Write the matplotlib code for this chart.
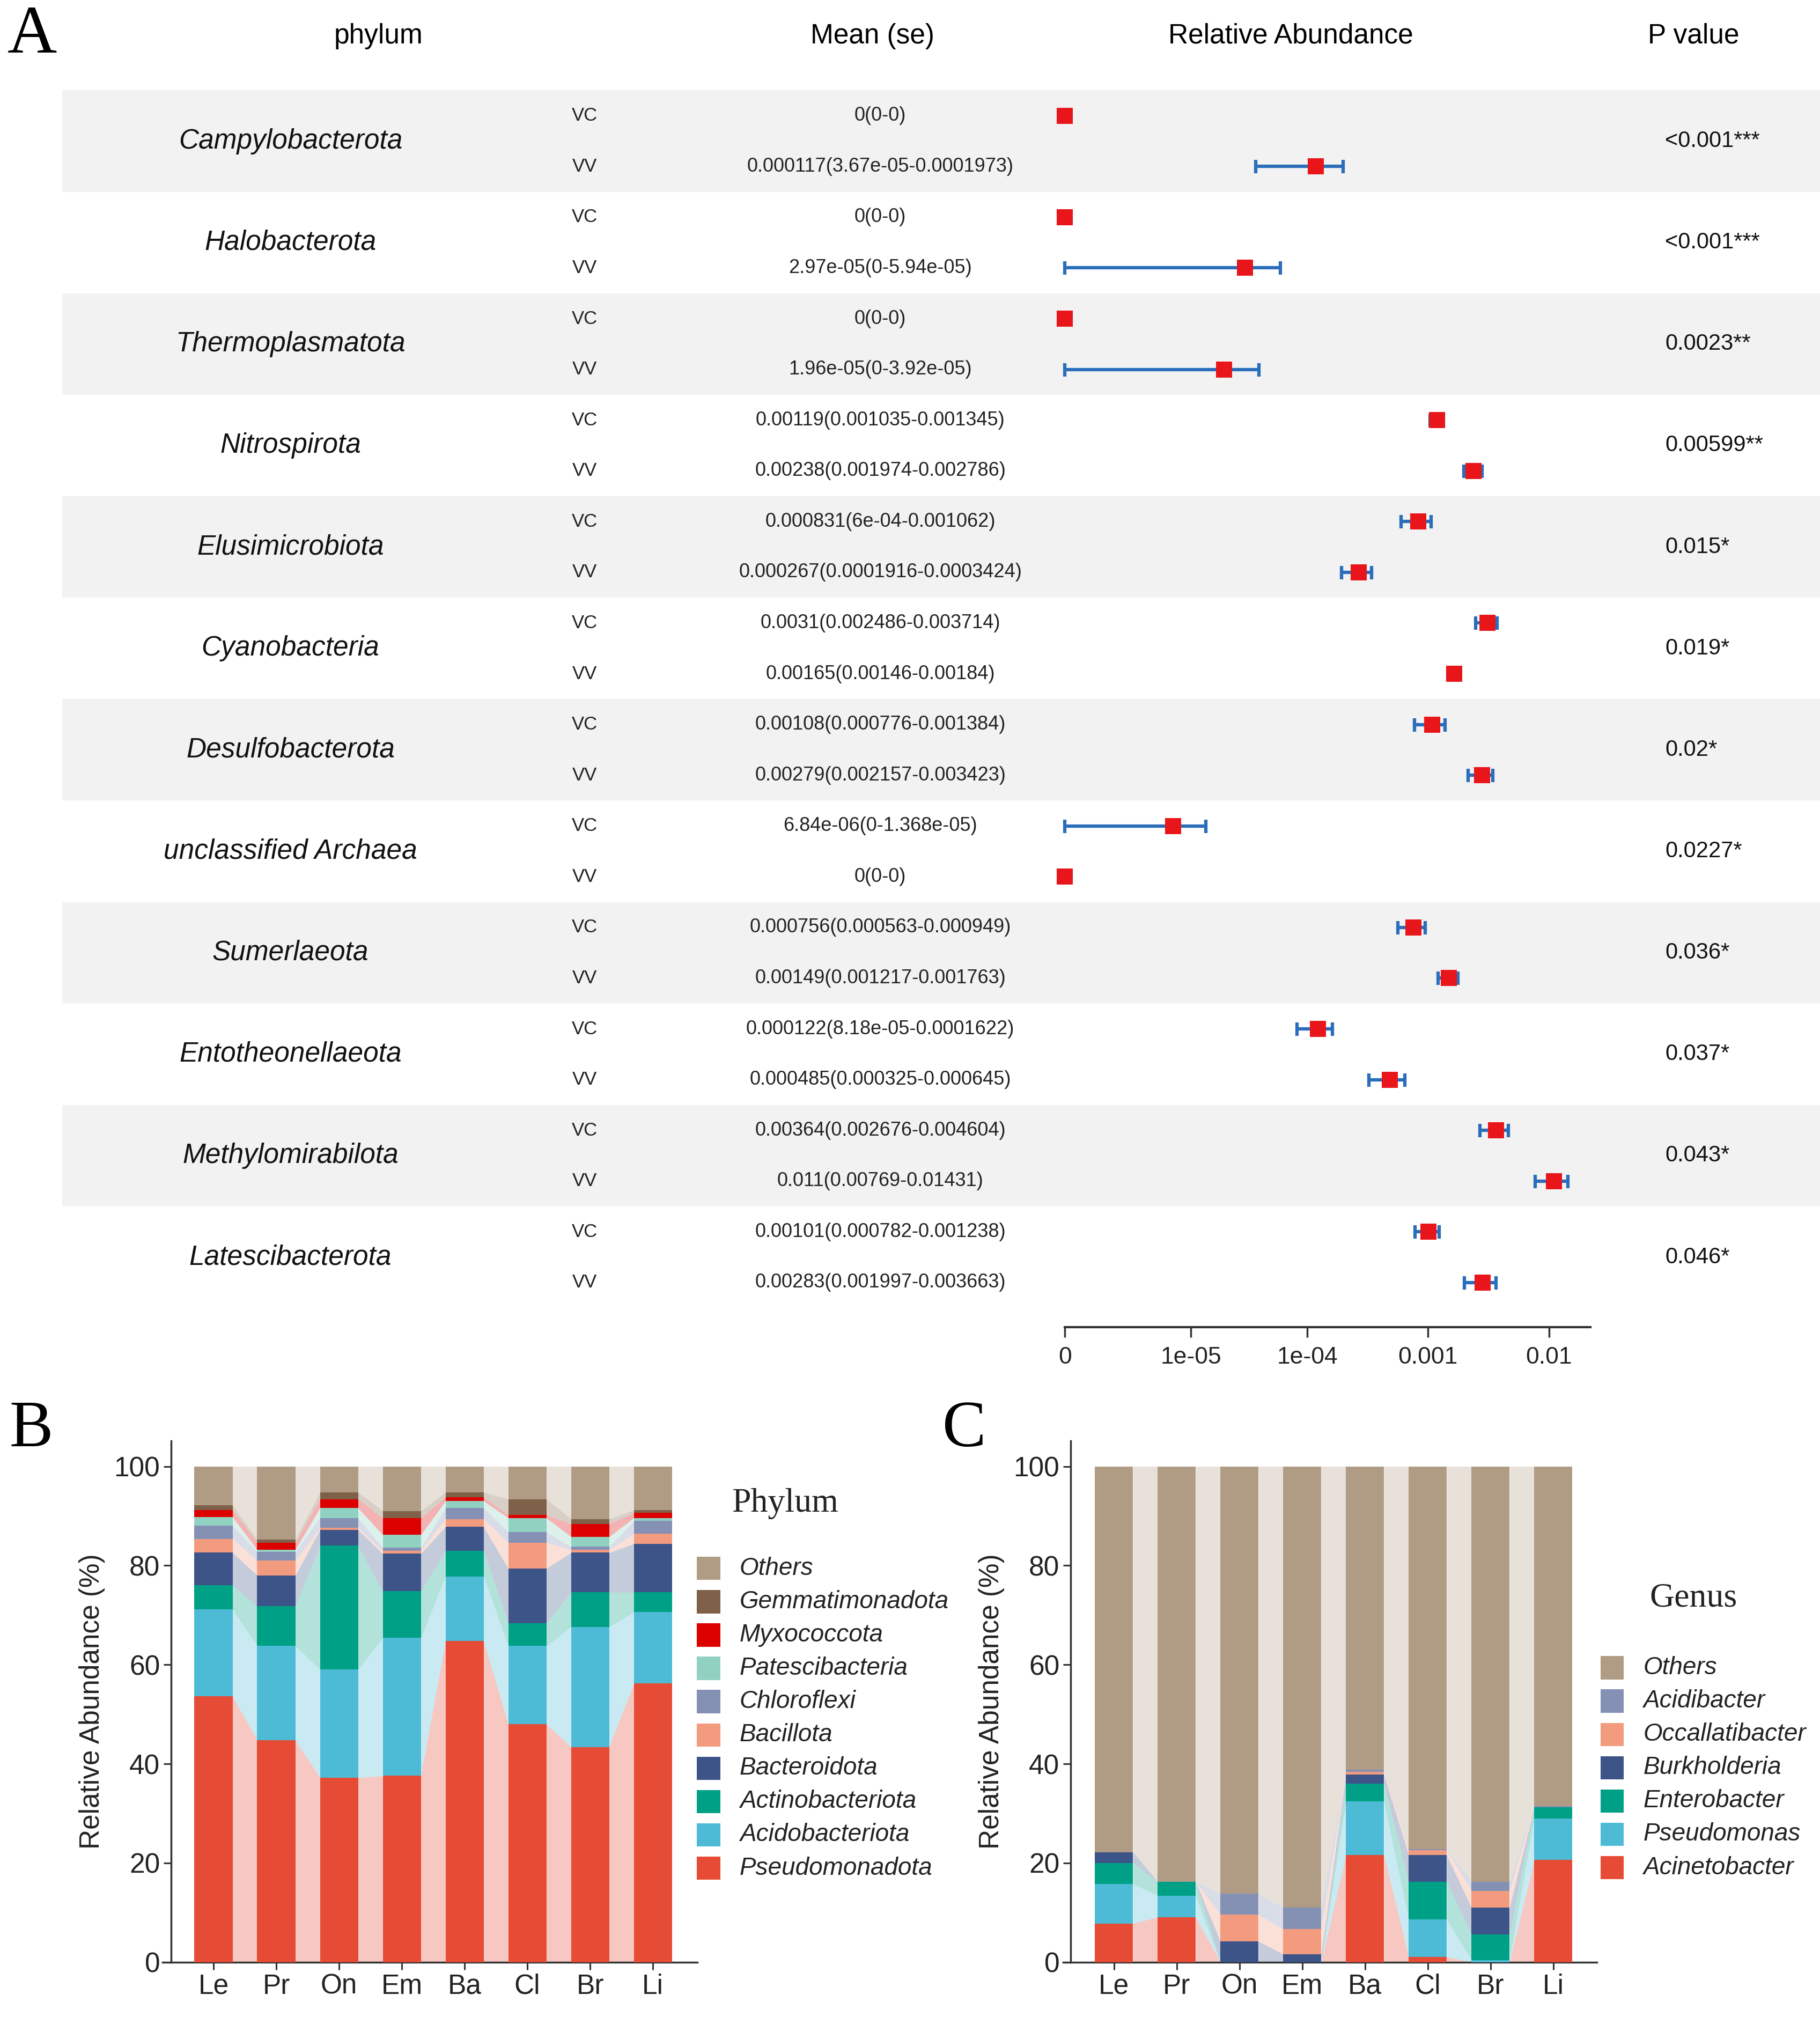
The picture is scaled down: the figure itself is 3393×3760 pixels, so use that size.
import matplotlib
matplotlib.use('Agg')
import matplotlib.pyplot as plt
import matplotlib.transforms as mtransforms
from matplotlib.patches import Rectangle
import numpy as np

plt.rcParams['font.family'] = ['Liberation Sans', 'DejaVu Sans']
SERIF = ['Liberation Serif', 'DejaVu Serif']

# ---------------- panel A data ----------------
phyla = ['Campylobacterota', 'Halobacterota', 'Thermoplasmatota', 'Nitrospirota',
         'Elusimicrobiota', 'Cyanobacteria', 'Desulfobacterota', 'unclassified Archaea',
         'Sumerlaeota', 'Entotheonellaeota', 'Methylomirabilota', 'Latescibacterota']
vc_mean = [0, 0, 0, 0.00119, 0.000831, 0.0031, 0.00108, 6.84e-06, 0.000756, 0.000122, 0.00364, 0.00101]
vc_lo = [0, 0, 0, 0.001035, 6e-04, 0.002486, 0.000776, 0, 0.000563, 8.18e-05, 0.002676, 0.000782]
vc_hi = [0, 0, 0, 0.001345, 0.001062, 0.003714, 0.001384, 1.368e-05, 0.000949, 0.0001622, 0.004604, 0.001238]
vv_mean = [0.000117, 2.97e-05, 1.96e-05, 0.00238, 0.000267, 0.00165, 0.00279, 0, 0.00149, 0.000485, 0.011, 0.00283]
vv_lo = [3.67e-05, 0, 0, 0.001974, 0.0001916, 0.00146, 0.002157, 0, 0.001217, 0.000325, 0.00769, 0.001997]
vv_hi = [0.0001973, 5.94e-05, 3.92e-05, 0.002786, 0.0003424, 0.00184, 0.003423, 0, 0.001763, 0.000645, 0.01431, 0.003663]
vc_text = ['0(0-0)', '0(0-0)', '0(0-0)', '0.00119(0.001035-0.001345)', '0.000831(6e-04-0.001062)',
           '0.0031(0.002486-0.003714)', '0.00108(0.000776-0.001384)', '6.84e-06(0-1.368e-05)',
           '0.000756(0.000563-0.000949)', '0.000122(8.18e-05-0.0001622)', '0.00364(0.002676-0.004604)',
           '0.00101(0.000782-0.001238)']
vv_text = ['0.000117(3.67e-05-0.0001973)', '2.97e-05(0-5.94e-05)', '1.96e-05(0-3.92e-05)',
           '0.00238(0.001974-0.002786)', '0.000267(0.0001916-0.0003424)', '0.00165(0.00146-0.00184)',
           '0.00279(0.002157-0.003423)', '0(0-0)', '0.00149(0.001217-0.001763)',
           '0.000485(0.000325-0.000645)', '0.011(0.00769-0.01431)', '0.00283(0.001997-0.003663)']
p_text = ['<0.001***', '<0.001***', '0.0023**', '0.00599**', '0.015*', '0.019*', '0.02*',
          '0.0227*', '0.036*', '0.037*', '0.043*', '0.046*']
xticks_a = [0, 1e-05, 1e-04, 0.001, 0.01]
xticklabels_a = ['0', '1e-05', '1e-04', '0.001', '0.01']

# ---------------- panel B data ----------------
samples = ['Le', 'Pr', 'On', 'Em', 'Ba', 'Cl', 'Br', 'Li']
phylum_names = ['Pseudomonadota', 'Acidobacteriota', 'Actinobacteriota', 'Bacteroidota', 'Bacillota',
                'Chloroflexi', 'Patescibacteria', 'Myxococcota', 'Gemmatimonadota', 'Others']
pseudomonadota = [53.6, 44.8, 37.2, 37.6, 64.8, 48.0, 43.4, 56.2]
acidobacteriota = [17.6, 19.0, 21.8, 27.8, 13.0, 15.8, 24.2, 14.4]
actinobacteriota = [4.8, 8.0, 25.0, 9.4, 5.2, 4.6, 7.0, 4.0]
bacteroidota = [6.6, 6.2, 3.2, 7.6, 4.8, 11.0, 8.0, 9.8]
bacillota = [2.8, 3.0, 0.4, 0.6, 1.6, 5.2, 0.6, 2.0]
chloroflexi = [2.6, 1.8, 2.0, 0.6, 2.2, 2.2, 0.6, 2.6]
patescibacteria = [1.8, 0.4, 2.0, 2.6, 1.4, 2.8, 2.0, 0.6]
myxococcota = [1.4, 1.4, 1.8, 3.4, 0.8, 0.6, 2.6, 1.0]
gemmatimonadota = [1.0, 0.6, 1.4, 1.4, 1.0, 3.2, 1.0, 0.6]
others_phylum = [7.8, 14.8, 5.2, 9.0, 5.2, 6.6, 10.6, 8.8]
phylum_colors = ['#e64b35', '#4dbbd5', '#00a087', '#3c5488', '#f39b7f',
                 '#8491b4', '#91d1c2', '#dc0000', '#7e6148', '#b09c85']

# ---------------- panel C data ----------------
genus_names = ['Acinetobacter', 'Pseudomonas', 'Enterobacter', 'Burkholderia',
               'Occallatibacter', 'Acidibacter', 'Others']
acinetobacter = [7.8, 9.1, 0.0, 0.0, 21.6, 1.1, 0.0, 20.6]
pseudomonas = [8.0, 4.3, 0.0, 0.0, 10.8, 7.5, 0.4, 8.4]
enterobacter = [4.2, 2.8, 0.0, 0.0, 3.6, 7.6, 5.2, 2.2]
burkholderia = [2.2, 0.0, 4.2, 1.6, 1.8, 5.4, 5.4, 0.0]
occallatibacter = [0.0, 0.0, 5.4, 5.1, 0.6, 1.0, 3.4, 0.0]
acidibacter = [0.0, 0.0, 4.2, 4.3, 0.4, 0.2, 1.8, 0.3]
others_genus = [77.8, 83.8, 86.2, 89.0, 61.2, 77.2, 83.8, 68.5]
genus_colors = ['#e64b35', '#4dbbd5', '#00a087', '#3c5488', '#f39b7f', '#8491b4', '#b09c85']

# reference layout grid (in reduced 1410 x 1562.5 units)
W, H = 1410.0, 1562.5


def fx(px):
    return px / W


def fy(py):
    return 1 - py / H


fig = plt.figure(figsize=(33.93, 37.60), dpi=100)
fig.patch.set_facecolor('white')

# ================= panel A =================
n = len(phyla)
band_h = 78.6
ax_top, ax_bot = 70, 1028
ylim_bottom = (ax_bot - ax_top) / band_h
axA = fig.add_axes([fx(825), fy(ax_bot), fx(1232) - fx(825), fy(ax_top) - fy(ax_bot)])
axA.patch.set_visible(False)


def fwd(x):
    return np.log10(np.asarray(x, dtype=float) + 1e-6)


def inv(y):
    return 10 ** np.asarray(y, dtype=float) - 1e-6


axA.set_xscale('function', functions=(fwd, inv))
axA.set_xlim(0, 0.02193)
axA.set_ylim(ylim_bottom, 0)

blend = mtransforms.blended_transform_factory(fig.transFigure, axA.transData)
for k in range(n):
    if k % 2 == 0:
        axA.add_patch(Rectangle((fx(48), k), 1 - fx(48), 1, transform=blend,
                                facecolor='#f2f2f2', edgecolor='none', zorder=0, clip_on=False))

y_vc = np.arange(n) + 0.25
y_vv = np.arange(n) + 0.75
err_col = '#2a6ebb'
for ys, m, lo, hi in [(y_vc, vc_mean, vc_lo, vc_hi), (y_vv, vv_mean, vv_lo, vv_hi)]:
    m = np.array(m)
    xerr = np.vstack([m - np.array(lo), np.array(hi) - m])
    eb = axA.errorbar(m, ys, xerr=xerr, fmt='none', ecolor=err_col, elinewidth=4.5,
                      capsize=9, capthick=4.5, zorder=3)
    for art in eb.lines[1] + eb.lines[2]:
        art.set_clip_on(False)
    axA.plot(m, ys, 's', color='#e8161b', markersize=22, markeredgewidth=0, zorder=4, clip_on=False)

for k in range(n):
    fig_y = k + 0.5
    axA.text(fx(225), fig_y, phyla[k], transform=blend, ha='center', va='center',
             fontsize=37, style='italic', color='#111111')
    axA.text(fx(453), y_vc[k], 'VC', transform=blend, ha='center', va='center', fontsize=25, color='#222222')
    axA.text(fx(453), y_vv[k], 'VV', transform=blend, ha='center', va='center', fontsize=25, color='#222222')
    axA.text(fx(682), y_vc[k], vc_text[k], transform=blend, ha='center', va='center', fontsize=26, color='#222222')
    axA.text(fx(682), y_vv[k], vv_text[k], transform=blend, ha='center', va='center', fontsize=26, color='#222222')
    axA.text(fx(1290), fig_y, p_text[k], transform=blend, ha='left', va='center', fontsize=30, color='#111111')

for sp in ['top', 'right', 'left']:
    axA.spines[sp].set_visible(False)
axA.spines['bottom'].set_linewidth(3)
axA.spines['bottom'].set_color('#333333')
axA.set_yticks([])
axA.set_xticks(xticks_a)
axA.set_xticklabels(xticklabels_a)
axA.minorticks_off()
axA.tick_params(axis='x', length=14, width=2.5, pad=12, labelsize=32, color='#333333', labelcolor='#222222')

# headers
fig.text(fx(293), fy(28), 'phylum', ha='center', va='center', fontsize=37)
fig.text(fx(676), fy(28), 'Mean (se)', ha='center', va='center', fontsize=37)
fig.text(fx(1000), fy(28), 'Relative Abundance', ha='center', va='center', fontsize=37)
fig.text(fx(1312), fy(28), 'P value', ha='center', va='center', fontsize=37)
fig.text(fx(25), fy(28), 'A', ha='center', va='center', fontsize=92, family=SERIF)


# ================= panels B and C =================
def draw_stack(ax, layers, colors, width, yaxis_at):
    x = np.arange(len(samples))
    bottom = np.zeros(len(samples))
    for vals, col in zip(layers, colors):
        vals = np.array(vals)
        top = bottom + vals
        ax.bar(x, vals, width=width, bottom=bottom, color=col, edgecolor='none', zorder=3)
        for i in range(len(samples) - 1):
            xs = [x[i] + width / 2, x[i + 1] - width / 2]
            ax.fill_between(xs, [bottom[i], bottom[i + 1]], [top[i], top[i + 1]],
                            color=col, alpha=0.3, linewidth=0, zorder=2)
        bottom = top
    ax.set_xticks(x)
    ax.set_xticklabels(samples)
    ax.set_ylim(0, 105.2)
    ax.set_yticks([0, 20, 40, 60, 80, 100])
    for sp in ['top', 'right']:
        ax.spines[sp].set_visible(False)
    for sp in ['left', 'bottom']:
        ax.spines[sp].set_linewidth(2.5)
        ax.spines[sp].set_color('#333333')
    ax.spines['left'].set_position(('data', yaxis_at))
    ax.tick_params(length=10, width=2.2, pad=5, labelsize=37, color='#333333', labelcolor='#222222')
    ax.set_ylabel('Relative Abundance (%)', fontsize=37, color='#222222', labelpad=12)


def draw_legend(names, colors, x_patch, x_text, ys, title, title_xy):
    for name, col, yy in zip(names, colors, ys):
        fig.patches.append(Rectangle((fx(x_patch), fy(yy + 9)), fx(18), fy(yy - 9) - fy(yy + 9),
                                     transform=fig.transFigure, facecolor=col, edgecolor='none'))
        fig.text(fx(x_text), fy(yy), name, ha='left', va='center', fontsize=33,
                 style='italic', color='#222222')
    fig.text(fx(title_xy[0]), fy(title_xy[1]), title, ha='center', va='center',
             fontsize=46, family=SERIF, color='#222222')


axB = fig.add_axes([fx(126), fy(1520), fx(540.3) - fx(126), fy(1116) - fy(1520)])
layers_b = [pseudomonadota, acidobacteriota, actinobacteriota, bacteroidota, bacillota,
            chloroflexi, patescibacteria, myxococcota, gemmatimonadota, others_phylum]
draw_stack(axB, layers_b, phylum_colors, 0.607, -0.675)
axB.set_xlim(-0.81, 7.71)
ys_b = [1215 + 25.8 * i for i in range(10)]
draw_legend(phylum_names[::-1], phylum_colors[::-1], 540, 573, ys_b, 'Phylum', (608, 1165))
fig.text(fx(24), fy(1108), 'B', ha='center', va='center', fontsize=88, family=SERIF)

axC = fig.add_axes([fx(823.5), fy(1520), fx(1237) - fx(823.5), fy(1116) - fy(1520)])
layers_c = [acinetobacter, pseudomonas, enterobacter, burkholderia, occallatibacter,
            acidibacter, others_genus]
draw_stack(axC, layers_c, genus_colors, 0.605, -0.689)
axC.set_xlim(-0.813, 7.693)
ys_c = [1292 + 25.8 * i for i in range(7)]
draw_legend(genus_names[::-1], genus_colors[::-1], 1240, 1273, ys_c, 'Genus', (1312, 1238))
fig.text(fx(747), fy(1108), 'C', ha='center', va='center', fontsize=88, family=SERIF)

fig.savefig('out.png', dpi=100)
